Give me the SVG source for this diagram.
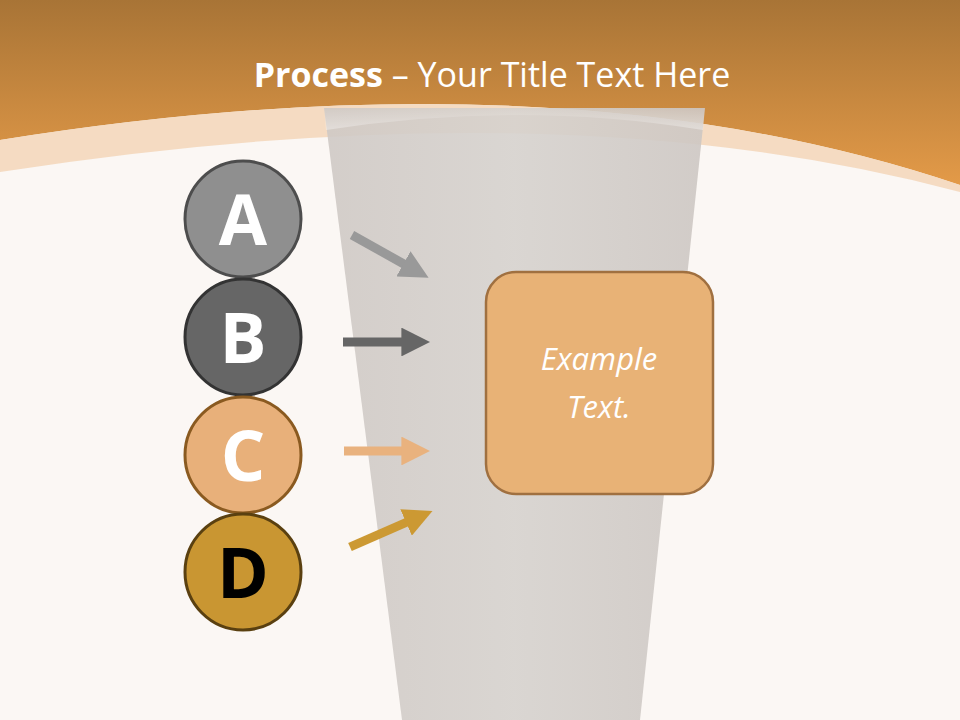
<svg xmlns="http://www.w3.org/2000/svg" width="960" height="720" viewBox="0 0 960 720">
<defs>
<linearGradient id="top" x1="0" y1="0" x2="0" y2="1"><stop offset="0" stop-color="#a87436"/><stop offset="1" stop-color="#e39a48"/></linearGradient>
<linearGradient id="glass" x1="0" y1="0" x2="1" y2="0"><stop offset="0" stop-color="#cfc9c5"/><stop offset="0.5" stop-color="#d6d2ce"/><stop offset="1" stop-color="#cdc7c3"/></linearGradient>
<linearGradient id="gfade" x1="0" y1="0" x2="0" y2="1"><stop offset="0" stop-color="#ffffff" stop-opacity="0"/><stop offset="1" stop-color="#ffffff" stop-opacity="0.35"/></linearGradient>
<style>
.lt{font-family:"Open Sans","Liberation Sans",sans-serif;font-weight:bold;font-size:70px;text-anchor:middle}
.ar{stroke-width:9;fill:none}
</style>
<marker id="m" viewBox="0 0 10 10" refX="3" refY="5" markerWidth="3.2" markerHeight="3.2" orient="auto"><path d="M0,0 L10,5 L0,10z" fill="context-stroke"/></marker>
</defs>
<rect width="960" height="720" fill="#fbf7f4"/>
<path d="M0,0 H960 V185 Q560,50 0,140 Z" fill="url(#top)"/>
<path d="M0,140 Q560,50 960,185 V192 Q560,85 0,172 Z" fill="#f3d6b8" opacity="0.85"/>
<path d="M324,108 L705,108 L640,720 L402,720 Z" fill="url(#glass)" opacity="0.9"/>
<path d="M324,108 L705,108 L703,130 Q520,100 326,130 Z" fill="url(#gfade)"/>
<text x="492" y="87" text-anchor="middle" fill="#fff" font-family="'Open Sans','Liberation Sans',sans-serif" font-size="34"><tspan font-weight="bold">Process</tspan> – Your Title Text Here</text>
<g id="connectors">
<line class="ar" x1="352" y1="235" x2="411" y2="268" stroke="#999999" marker-end="url(#m)"/>
<line class="ar" x1="343" y1="342" x2="410" y2="342" stroke="#666666" marker-end="url(#m)"/>
<line class="ar" x1="344" y1="451" x2="410" y2="451" stroke="#e9b27e" marker-end="url(#m)"/>
<line class="ar" x1="350" y1="547" x2="414" y2="519" stroke="#cc9933" marker-end="url(#m)"/>
</g>
<g id="A"><circle cx="243" cy="219" r="58" fill="#8f8f8f" stroke="#4d4d4d" stroke-width="3"/><text class="lt" x="243" y="245" fill="#fff">A</text></g>
<g id="B"><circle cx="243" cy="337" r="58" fill="#666666" stroke="#333" stroke-width="3"/><text class="lt" x="243" y="363" fill="#fff">B</text></g>
<g id="C"><circle cx="243" cy="455" r="58" fill="#e8b07a" stroke="#8a5a20" stroke-width="3"/><text class="lt" x="243" y="481" fill="#fff">C</text></g>
<g id="D"><circle cx="243" cy="572" r="58" fill="#c99632" stroke="#5a4010" stroke-width="3"/><text class="lt" x="243" y="598" fill="#000">D</text></g>
<g id="box"><rect x="486" y="272" width="227" height="222" rx="30" fill="#e8b276" stroke="#a07040" stroke-width="2.5"/>
<text x="599" y="370" text-anchor="middle" fill="#fff" font-style="italic" font-family="'Open Sans','Liberation Sans',sans-serif" font-size="31">Example</text>
<text x="599" y="418" text-anchor="middle" fill="#fff" font-style="italic" font-family="'Open Sans','Liberation Sans',sans-serif" font-size="31">Text.</text></g>
</svg>
